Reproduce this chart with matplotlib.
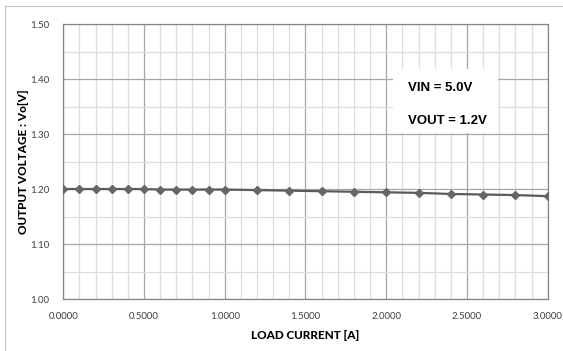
import matplotlib
matplotlib.use("Agg")
import matplotlib.pyplot as plt
from matplotlib.patches import Rectangle
from matplotlib.ticker import MultipleLocator, FormatStrFormatter

plt.rcParams['font.family'] = ['Lato', 'DejaVu Sans']

# load current [A] and output voltage [V]
load_current = [0.0, 0.1, 0.2, 0.3, 0.4, 0.5, 0.6, 0.7, 0.8, 0.9, 1.0,
                1.2, 1.4, 1.6, 1.8, 2.0, 2.2, 2.4, 2.6, 2.8, 3.0]
vout = [1.200, 1.200, 1.200, 1.200, 1.200, 1.200, 1.199, 1.199, 1.199, 1.199, 1.199,
        1.198, 1.197, 1.196, 1.195, 1.194, 1.193, 1.191, 1.190, 1.189, 1.187]

notes = ["VIN = 5.0V", "VOUT = 1.2V"]

fig = plt.figure(figsize=(5.63, 3.51), dpi=100)
ax = fig.add_axes([0.1124, 0.1481, 0.8604, 0.7835])

# chart border (Excel style)
fig.patches.append(Rectangle((5 / 563, -0.1), 1.2, 1 - 6 / 351 + 0.1, transform=fig.transFigure,
                             fill=False, edgecolor="#bfbfbf", linewidth=0.8))

ax.plot(load_current, vout, color="#5a5a5a", linewidth=1.6, marker="D",
        markersize=4, markerfacecolor="#666666", markeredgecolor="#666666", zorder=5)

ax.set_xlim(0, 3.0)
ax.set_ylim(1.0, 1.5)
ax.xaxis.set_major_locator(MultipleLocator(0.5))
ax.xaxis.set_minor_locator(MultipleLocator(0.1))
ax.yaxis.set_major_locator(MultipleLocator(0.1))
ax.yaxis.set_minor_locator(MultipleLocator(0.05))
ax.xaxis.set_major_formatter(FormatStrFormatter("%.4f"))
ax.yaxis.set_major_formatter(FormatStrFormatter("%.2f"))

ax.grid(which="major", color="#a6a6a6", linewidth=0.9)
ax.grid(which="minor", color="#dddddd", linewidth=0.9)
ax.set_axisbelow(True)
ax.tick_params(which="both", length=0)
ax.tick_params(axis="x", labelsize=7, labelcolor="#404040", pad=9)
ax.tick_params(axis="y", labelsize=7, labelcolor="#404040", pad=10)
for s in ax.spines.values():
    s.set_color("#868686")
    s.set_linewidth(0.9)

ax.set_xlabel("LOAD CURRENT [A]", fontsize=8.5, fontweight="black", labelpad=7)
ax.set_ylabel("OUTPUT VOLTAGE : Vo[V]", fontsize=8.5, fontweight="black", labelpad=1)

# note box
ax.add_patch(Rectangle((0.681, 0.604), 0.216, 0.232, transform=ax.transAxes,
                       facecolor="white", edgecolor="none", zorder=3))
ax.text(0.712, 0.767, notes[0], transform=ax.transAxes, fontsize=9.5, fontweight="bold",
        family=["Liberation Sans", "DejaVu Sans"], va="center", zorder=4)
ax.text(0.712, 0.647, notes[1], transform=ax.transAxes, fontsize=9.5, fontweight="bold",
        family=["Liberation Sans", "DejaVu Sans"], va="center", zorder=4)

fig.savefig("out.png", dpi=100)
